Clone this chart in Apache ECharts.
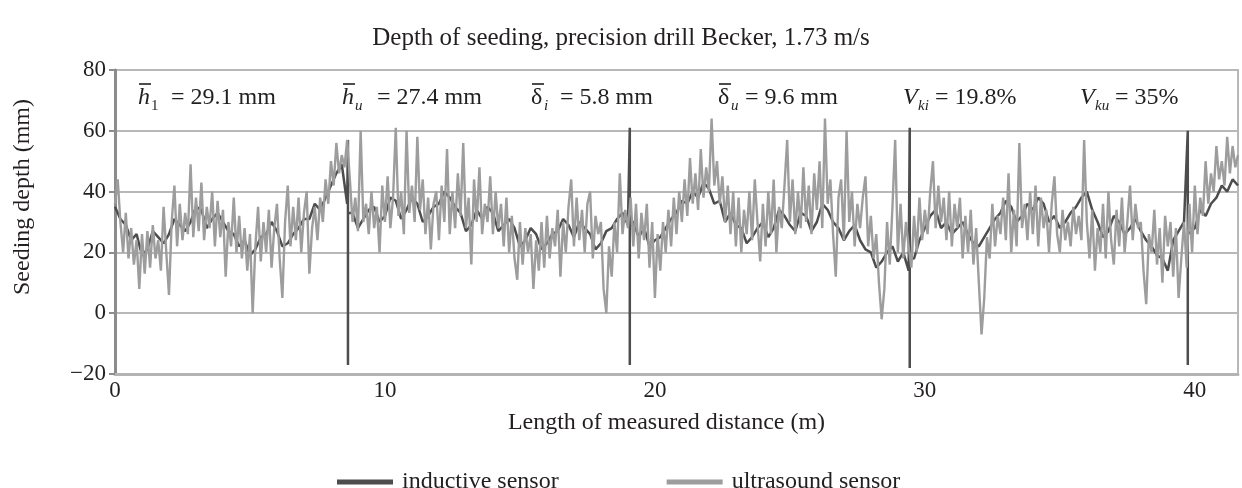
<!DOCTYPE html>
<html>
<head>
<meta charset="utf-8">
<title>Depth of seeding, precision drill Becker</title>
<script src="https://cdn.jsdelivr.net/npm/echarts@6/dist/echarts.min.js"></script>
<style>
    html, body { margin: 0; padding: 0; background: #fff; }
    #chart { width: 1242px; height: 488px; }
</style>
</head>
<body>
<div id="chart"></div>
<script>
/* data start */
// distance between two samples (m)
const ULTRA_STEP = 0.1
const IND_STEP = 0.2

// ultrasound sensor, one value every 0.1 m (mm), one row = 1 m
const ultrasoundDepth = [
    36, 44, 30, 20, 33, 18, 28, 16, 24, 8,
    26, 13, 27, 15, 29, 18, 24, 14, 35, 20,
    6, 30, 42, 22, 36, 24, 33, 26, 49, 25,
    38, 27, 43, 24, 35, 28, 40, 22, 37, 25,
    34, 12, 30, 22, 38, 20, 32, 18, 28, 14,
    26, 0, 22, 35, 17, 30, 20, 34, 15, 28,
    36, 18, 5, 30, 42, 22, 35, 24, 38, 20,
    33, 40, 13, 28, 35, 24, 38, 30, 44, 36,
    50, 42, 56, 46, 52, 48, 57, 44, 30, 38,
    27, 60, 30, 36, 26, 40, 28, 35, 20, 42,
    30, 45, 28, 38, 61, 32, 40, 26, 60, 33,
    42, 30, 58, 34, 44, 26, 38, 21, 36, 40,
    24, 42, 30, 54, 26, 40, 28, 46, 32, 56,
    28, 38, 16, 44, 30, 48, 26, 36, 30, 45,
    26, 40, 28, 36, 22, 38, 20, 32, 18, 11,
    30, 16, 28, 20, 26, 8, 24, 14, 30, 15,
    32, 18, 28, 22, 34, 12, 30, 20, 35, 44,
    22, 38, 24, 34, 20, 36, 40, 18, 32, 26,
    30, 8, 0, 22, 12, 30, 20, 46, 26, 34,
    28, 38, 22, 36, 18, 33, 24, 36, 15, 30,
    5, 26, 14, 30, 20, 34, 22, 38, 26, 40,
    30, 44, 32, 51, 36, 46, 34, 54, 38, 48,
    40, 64, 42, 50, 36, 45, 30, 42, 26, 40,
    22, 38, 20, 34, 26, 40, 24, 44, 30, 17,
    36, 22, 40, 26, 44, 20, 35, 28, 42, 57,
    30, 44, 26, 40, 28, 48, 30, 42, 26, 46,
    34, 50, 28, 64, 36, 44, 26, 12, 38, 44,
    24, 60, 30, 40, 22, 36, 28, 38, 45, 22,
    32, 18, 26, 10, -2, 8, 30, 16, 35, 57,
    20, 36, 18, 30, 22, 15, 32, 20, 38, 24,
    34, 26, 40, 50, 28, 42, 30, 38, 24, 40,
    22, 36, 28, 38, 18, 32, 20, 34, 16, 28,
    10, -7, 5, 25, 18, 36, 22, 32, 26, 38,
    24, 46, 20, 34, 22, 56, 28, 36, 24, 40,
    26, 42, 22, 38, 28, 34, 20, 36, 45, 26,
    20, 34, 24, 30, 22, 35, 26, 32, 24, 57,
    30, 18, 34, 14, 28, 20, 36, 18, 40, 24,
    16, 34, 22, 38, 20, 30, 42, 24, 36, 28,
    30, 14, 3, 26, 20, 34, 16, 28, 10, 32,
    22, 30, 12, 28, 5, 18, 30, 15, 36, 20,
    42, 26, 38, 32, 50, 36, 46, 40, 55, 44,
    50, 42, 58, 46, 55, 48, 52
]

// inductive sensor, one value every 0.2 m (mm), one row = 4 m
const inductiveDepth = [
    35, 31, 29, 24, 26, 19, 21, 27, 25, 23, 26, 31, 29, 27, 30, 35, 34, 28, 31, 33,
    30, 27, 26, 22, 24, 19, 21, 25, 26, 30, 27, 22, 23, 26, 28, 31, 31, 36, 34, 38,
    42, 46, 49, 36, 33, 28, 31, 34, 35, 30, 32, 38, 37, 31, 34, 38, 36, 30, 32, 35,
    36, 40, 38, 35, 33, 27, 29, 34, 31, 35, 33, 27, 29, 31, 28, 22, 24, 28, 26, 21,
    23, 26, 27, 31, 29, 25, 30, 28, 26, 21, 23, 27, 28, 31, 33, 29, 30, 25, 28, 22,
    24, 25, 28, 31, 33, 37, 36, 40, 38, 43, 41, 36, 37, 30, 33, 29, 28, 23, 25, 28,
    30, 25, 28, 34, 32, 29, 27, 33, 32, 27, 30, 36, 34, 30, 28, 24, 27, 29, 24, 21,
    20, 15, 17, 20, 22, 17, 20, 14, 18, 24, 28, 32, 34, 28, 30, 26, 28, 30, 26, 23,
    22, 25, 28, 31, 33, 37, 35, 30, 32, 36, 34, 38, 36, 30, 32, 28, 30, 33, 35, 38,
    40, 34, 30, 25, 27, 32, 30, 26, 28, 31, 27, 24, 22, 19, 18, 14, 24, 27, 30, 26,
    28, 34, 32, 36, 38, 42, 40, 44, 42
]

// distance marks of the inductive sensor (m, mm)
const markerDist = [8.63, 19.07, 29.44, 39.74]
const markerTop = [57, 61, 61, 60]
const markerBottom = [-17, -17, -18, -17]

// axes
const xMin = 0, xMax = 41.6, xStep = 10
const yMin = -20, yMax = 80, yStep = 20

// texts written in the plot
const notes = [
    { main: 'h', sub: '1', rest: '= 29.1 mm', italic: true, subItalic: false },
    { main: 'h', sub: 'u', rest: '= 27.4 mm', italic: true, subItalic: true },
    { main: 'δ', sub: 'i', rest: '= 5.8 mm', italic: false, subItalic: true },
    { main: 'δ', sub: 'u', rest: '= 9.6 mm', italic: false, subItalic: true },
    { main: 'V', sub: 'ki', rest: '= 19.8%', italic: true, subItalic: true },
    { main: 'V', sub: 'ku', rest: '= 35%', italic: true, subItalic: true }
]
/* data end */

const FONT = "'Liberation Serif', 'DejaVu Serif', serif"
const TEXT = '#231f20'

function buildUltrasound() {
    return ultrasoundDepth.map((v, i) => [+(i * ULTRA_STEP).toFixed(2), v])
}

// the marks are drawn as straight drops inside the inductive line
function buildInductive() {
    let pts = inductiveDepth.map((v, i) => [+(i * IND_STEP).toFixed(2), v])
    markerDist.forEach((d, k) => {
        let idx = pts.findIndex(p => p[0] > d)
        if (idx < 0) idx = pts.length
        let next = pts[Math.min(idx, pts.length - 1)][1]
        pts.splice(idx, 0, [d, markerTop[k]], [d, markerBottom[k]], [d, next])
    })
    return pts
}

// x of symbol, subscript and "= ..." for each note (px)
const noteX = [
    [138, 151, 171], [342, 355, 377], [531, 544, 560],
    [718, 731, 745], [903, 918, 935], [1080, 1095, 1115]
]

function buildNotes() {
    let out = []
    notes.forEach((n, i) => {
        let [x0, x1, x2] = noteX[i]
        out.push({
            type: 'text', left: x0, top: 86,
            style: { text: n.main, font: (n.italic ? 'italic ' : '') + '24px ' + FONT, fill: TEXT }
        })
        if (n.main !== 'V') {
            out.push({
                type: 'line', shape: { x1: x0 + 1, y1: 84, x2: x0 + 13, y2: 84 },
                style: { stroke: TEXT, lineWidth: 1.6 }
            })
        }
        out.push({
            type: 'text', left: x1, top: 99,
            style: { text: n.sub, font: (n.subItalic ? 'italic ' : '') + '15px ' + FONT, fill: TEXT }
        })
        out.push({
            type: 'text', left: x2, top: 86,
            style: { text: n.rest, font: '24px ' + FONT, fill: TEXT }
        })
    })
    return out
}

let chart = echarts.init(document.getElementById('chart'))
let option = {
    animation: false,
    backgroundColor: '#fff',
    title: {
        text: 'Depth of seeding, precision drill Becker, 1.73 m/s',
        left: 'center',
        top: 21,
        textStyle: { fontFamily: FONT, fontSize: 25, fontWeight: 'normal', color: TEXT }
    },
    legend: {
        data: ['inductive sensor', 'ultrasound sensor'],
        left: 332,
        top: 465,
        icon: 'rect',
        itemWidth: 56,
        itemHeight: 5,
        itemGap: 108,
        textStyle: { fontFamily: FONT, fontSize: 24, color: TEXT, padding: [0, 0, 0, 4] }
    },
    grid: {
        left: 115,
        right: 4,
        top: 70,
        bottom: 114,
        show: true,
        borderColor: '#b8b8b8',
        borderWidth: 2
    },
    xAxis: {
        type: 'value',
        min: xMin,
        max: xMax,
        interval: xStep,
        name: 'Length of measured distance (m)',
        nameLocation: 'middle',
        nameGap: 37,
        nameTextStyle: { fontFamily: FONT, fontSize: 24, color: TEXT, padding: [0, 20, 0, 0] },
        axisLine: { onZero: false, lineStyle: { color: '#b4b4b4', width: 3 } },
        axisTick: { show: false },
        splitLine: { show: false },
        axisLabel: {
            showMaxLabel: false,
            margin: 5,
            fontFamily: FONT, fontSize: 23, color: TEXT
        }
    },
    yAxis: {
        type: 'value',
        min: yMin,
        max: yMax,
        interval: yStep,
        name: 'Seeding depth (mm)',
        nameLocation: 'middle',
        nameGap: 80,
        nameTextStyle: { fontFamily: FONT, fontSize: 24, color: TEXT, padding: [0, 0, 0, 50] },
        axisLine: { show: true, lineStyle: { color: '#8c8c8c', width: 3 } },
        axisTick: { show: true, length: 6, lineStyle: { color: '#8c8c8c', width: 2 } },
        splitLine: { lineStyle: { color: '#b8b8b8', width: 2 } },
        axisLabel: {
            margin: 9,
            fontFamily: FONT, fontSize: 23, color: TEXT,
            formatter: v => (v < 0 ? '\u2212' + Math.abs(v) : '' + v)
        }
    },
    series: [
        {
            name: 'inductive sensor',
            type: 'line',
            data: buildInductive(),
            showSymbol: false,
            itemStyle: { color: '#4d4d4d' },
            lineStyle: { color: '#4d4d4d', width: 2.5 },
            z: 2
        },
        {
            name: 'ultrasound sensor',
            type: 'line',
            data: buildUltrasound(),
            showSymbol: false,
            itemStyle: { color: '#9d9d9d' },
            lineStyle: { color: '#9d9d9d', width: 2.4 },
            z: 3
        }
    ],
    graphic: buildNotes()
}
chart.setOption(option)
</script>
</body>
</html>
